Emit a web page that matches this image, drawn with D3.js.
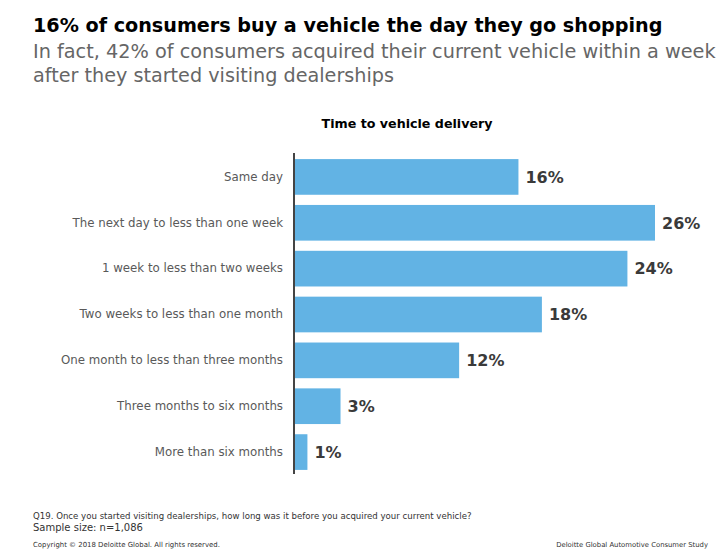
<!DOCTYPE html>
<html>
<head>
<meta charset="utf-8">
<script src="https://cdn.jsdelivr.net/npm/d3@7"></script>
<style>
  html, body { margin: 0; padding: 0; background: #fff; }
  svg { display: block; }
  text { font-family: "DejaVu Sans", Verdana, sans-serif; }
</style>
</head>
<body>
<script>
// ---- Data ----
const categories = [
  "Same day",
  "The next day to less than one week",
  "1 week to less than two weeks",
  "Two weeks to less than one month",
  "One month to less than three months",
  "Three months to six months",
  "More than six months"
];
const values = [16.2, 26.1, 24.1, 17.9, 11.9, 3.3, 0.9];
const valueLabels = ["16%", "26%", "24%", "18%", "12%", "3%", "1%"];

const titleText = "16% of consumers buy a vehicle the day they go shopping";
const subtitleLines = [
  "In fact, 42% of consumers acquired their current vehicle within a week",
  "after they started visiting dealerships"
];
const chartTitle = "Time to vehicle delivery";
const footnotes = [
  "Q19. Once you started visiting dealerships, how long was it before you acquired your current vehicle?",
  "Sample size: n=1,086"
];
const copyrightText = "Copyright \u00A9 2018 Deloitte Global. All rights reserved.";
const sourceText = "Deloitte Global Automotive Consumer Study";

// ---- Setup ----
const W = 719, H = 555;
const svg = d3.select("body").append("svg").attr("width", W).attr("height", H);

function fit(sel, target) {
  const n = sel.node();
  const fs = parseFloat(sel.attr("font-size"));
  const w = n.getComputedTextLength();
  if (w > 0) sel.attr("font-size", (fs * target / w).toFixed(2));
  return sel;
}

// Titles
fit(svg.append("text").attr("x", 33).attr("y", 32)
  .attr("font-size", 20).attr("font-weight", "bold").attr("fill", "#000")
  .text(titleText), 630);

const subW = [683, 361];
subtitleLines.forEach((t, i) => {
  fit(svg.append("text").attr("x", 33).attr("y", 58 + i * 24)
    .attr("font-size", 20).attr("fill", "#666666").text(t), subW[i]);
});

fit(svg.append("text").attr("x", 407).attr("y", 128).attr("text-anchor", "middle")
  .attr("font-size", 13).attr("font-weight", "bold").attr("fill", "#000")
  .text(chartTitle), 171);

// ---- Scales ----
const x = d3.scaleLinear().domain([0, 26.1]).range([295, 655]);
const y = d3.scaleBand().domain(categories).range([154, 475])
  .paddingInner(0.222).paddingOuter(0.111);

// Bars
svg.append("g").selectAll("rect").data(categories).join("rect")
  .attr("x", x(0))
  .attr("y", d => y(d))
  .attr("width", (d, i) => x(values[i]) - x(0))
  .attr("height", y.bandwidth())
  .attr("fill", "#62b3e4");

// Value labels
svg.append("g").selectAll("text").data(categories).join("text")
  .attr("x", (d, i) => x(values[i]) + 7)
  .attr("y", d => y(d) + y.bandwidth() / 2)
  .attr("dy", "0.36em")
  .attr("font-size", 16)
  .attr("font-weight", "bold")
  .attr("fill", "#3a3a3a")
  .text((d, i) => valueLabels[i]);

// Axis
const axis = svg.append("g").attr("transform", "translate(294,0)")
  .call(d3.axisLeft(y).tickSize(0).tickSizeOuter(0).tickPadding(11));
axis.select(".domain").attr("stroke", "#444").attr("stroke-width", 2)
  .attr("d", `M0,${y.range()[0] - 1}V${y.range()[1] - 1}`);
axis.selectAll(".tick text")
  .attr("font-family", "DejaVu Sans, Verdana, sans-serif")
  .attr("font-size", 11.8)
  .attr("fill", "#595959");

// Footer
footnotes.forEach((t, i) => {
  const s = svg.append("text").attr("x", 33).attr("y", 519 + i * 11.5)
    .attr("font-size", 9.5).attr("fill", "#333").text(t);
  if (i === 0) fit(s, 439);
  else s.attr("font-size", 10);
});
fit(svg.append("text").attr("x", 33).attr("y", 547)
  .attr("font-size", 7.5).attr("fill", "#333").text(copyrightText), 187);
fit(svg.append("text").attr("x", 708).attr("y", 547).attr("text-anchor", "end")
  .attr("font-size", 7.5).attr("fill", "#333").text(sourceText), 152);
</script>
</body>
</html>
